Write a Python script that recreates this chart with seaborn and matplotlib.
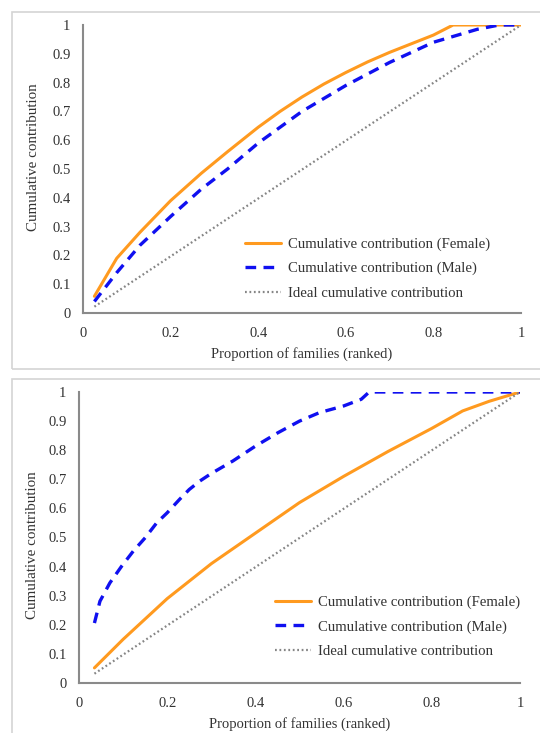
import matplotlib
matplotlib.use("Agg")
import matplotlib.pyplot as plt
import seaborn as sns
from matplotlib.patches import Rectangle

# ------------------------------
# Data
# ------------------------------
# top panel
top_x_female = [0.026, 0.077, 0.13, 0.2, 0.27, 0.33, 0.4, 0.45, 0.5, 0.55, 0.6, 0.65, 0.7, 0.75,
                0.8, 0.845, 0.9, 1.0]
top_y_female = [0.058, 0.19, 0.28, 0.39, 0.485, 0.56, 0.645, 0.70, 0.75, 0.795, 0.835, 0.872, 0.905,
                0.935, 0.965, 1.0, 1.0, 1.0]
top_x_male = [0.026, 0.077, 0.13, 0.2, 0.27, 0.33, 0.4, 0.5, 0.6, 0.7, 0.8, 0.9, 0.95, 1.0]
top_y_male = [0.04, 0.14, 0.235, 0.335, 0.43, 0.5, 0.59, 0.7, 0.79, 0.87, 0.94, 0.985, 1.0, 1.0]
top_x_ideal = [0.026, 1.0]
top_y_ideal = [0.022, 1.0]

# bottom panel
bot_x_female = [0.035, 0.1, 0.2, 0.3, 0.4, 0.5, 0.6, 0.7, 0.8, 0.87, 0.93, 1.0]
bot_y_female = [0.052, 0.15, 0.29, 0.41, 0.515, 0.62, 0.71, 0.795, 0.875, 0.935, 0.968, 1.0]
bot_x_male = [0.035, 0.0475, 0.07, 0.0965, 0.123, 0.15, 0.176, 0.2, 0.228, 0.25, 0.274, 0.3,
              0.349, 0.4, 0.451, 0.5, 0.545, 0.6, 0.64, 0.658, 1.0]
bot_y_male = [0.206, 0.281, 0.344, 0.401, 0.453, 0.499, 0.55, 0.585, 0.631, 0.665, 0.694, 0.72,
              0.763, 0.814, 0.86, 0.90, 0.929, 0.952, 0.975, 1.0, 1.0]
bot_x_ideal = [0.035, 1.0]
bot_y_ideal = [0.032, 1.0]

labels = ["Cumulative contribution (Female)",
          "Cumulative contribution (Male)",
          "Ideal cumulative contribution"]
y_ticks = [0, 0.1, 0.2, 0.3, 0.4, 0.5, 0.6, 0.7, 0.8, 0.9, 1]
y_tick_labels = ["0", "0.1", "0.2", "0.3", "0.4", "0.5", "0.6", "0.7", "0.8", "0.9", "1"]
x_ticks = [0, 0.2, 0.4, 0.6, 0.8, 1]
x_tick_labels = ["0", "0.2", "0.4", "0.6", "0.8", "1"]

# ------------------------------
# Style
# ------------------------------
sns.set_style("white")
plt.rcParams['font.family'] = ['Liberation Serif', 'DejaVu Serif']
plt.rcParams['font.size'] = 10

fig = plt.figure(figsize=(5.4, 7.33), dpi=100)

# light frames around each panel
fig.add_artist(Rectangle((12 / 540, 1 - 369 / 733), 1.0, 357 / 733, transform=fig.transFigure,
                         fill=False, edgecolor="#d4d4d4", linewidth=1.2))
fig.add_artist(Rectangle((12 / 540, -0.01), 1.0, 1 - 379 / 733 + 0.01, transform=fig.transFigure,
                         fill=False, edgecolor="#d4d4d4", linewidth=1.2))

ax_top = fig.add_axes([83 / 540, 1 - 313 / 733, 438 / 540, 288 / 733])
ax_bot = fig.add_axes([79 / 540, 1 - 683 / 733, 441 / 540, 291 / 733])

panels = [
    # axes, data, legend anchor, y-label coords (axes fraction)
    (ax_top, top_x_female, top_y_female, top_x_male, top_y_male, top_x_ideal, top_y_ideal,
     (0.34, 0.0), (-0.098, 0.54)),
    (ax_bot, bot_x_female, bot_y_female, bot_x_male, bot_y_male, bot_x_ideal, bot_y_ideal,
     (0.415, 0.04), (-0.091, 0.475)),
]

for ax, xf, yf, xm, ym, xi, yi, leg_pos, ylab_pos in panels:
    sns.lineplot(x=xf, y=yf, ax=ax, color="#FF9A1F", linewidth=2.2, sort=False, label=labels[0])
    sns.lineplot(x=xm, y=ym, ax=ax, color="#1010F0", linewidth=2.4, sort=False, label=labels[1])
    sns.lineplot(x=xi, y=yi, ax=ax, color="#858585", linewidth=1.6, sort=False, label=labels[2])
    ax.lines[1].set_dashes((3.2, 2.2))
    ax.lines[2].set_dashes((0.8, 1.2))

    ax.set_xlim(0, 1)
    ax.set_ylim(0, 1)
    ax.set_yticks(y_ticks)
    ax.set_yticklabels(y_tick_labels)
    ax.set_xticks(x_ticks)
    ax.set_xticklabels(x_tick_labels)
    ax.tick_params(axis='y', length=0, pad=9, labelsize=10.5, labelcolor="#333333")
    ax.tick_params(axis='x', length=0, pad=10, labelsize=10.5, labelcolor="#333333")
    ax.set_xlabel("Proportion of families (ranked)", fontsize=10.5, color="#333333", labelpad=5)
    ax.set_ylabel("Cumulative contribution", fontsize=10.8, color="#333333")
    ax.yaxis.set_label_coords(*ylab_pos)
    for side in ["top", "right"]:
        ax.spines[side].set_visible(False)
    for side in ["left", "bottom"]:
        ax.spines[side].set_color("#8a8a8a")
        ax.spines[side].set_linewidth(1.5)
    ax.set_facecolor("none")
    leg = ax.legend(loc="lower left", bbox_to_anchor=leg_pos, frameon=False,
                    handlelength=2.4, handletextpad=0.5, labelspacing=0.75, fontsize=10.6)
    for text in leg.get_texts():
        text.set_color("#333333")

plt.savefig("out.png", dpi=100)
plt.close()
